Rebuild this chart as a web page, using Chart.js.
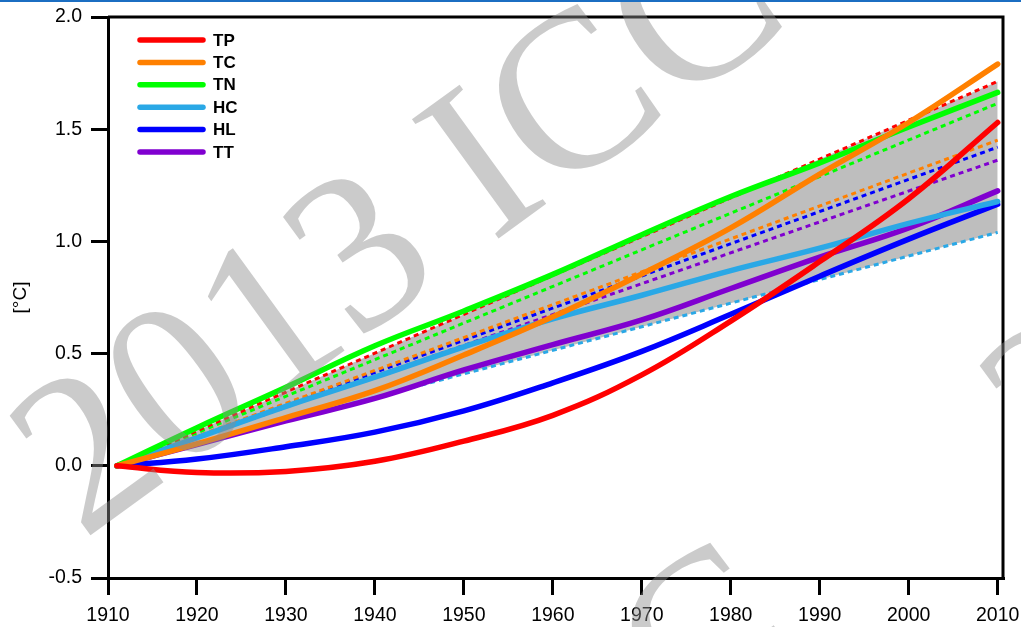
<!DOCTYPE html>
<html>
<head>
<meta charset="utf-8">
<script src="https://cdn.jsdelivr.net/npm/chart.js@4"></script>
<style>
  body { margin: 0; background: #fff; }
  #wrap { width: 1021px; height: 627px; }
</style>
</head>
<body>
<div id="wrap"><canvas id="myChart" width="1021" height="627"></canvas></div>
<script>
// values, degC relative to 1911
const years = [1911, 1920, 1930, 1940, 1950, 1960, 1970, 1980, 1990, 2000, 2010];
const tp = [0, -0.03, -0.025, 0.02, 0.11, 0.225, 0.405, 0.645, 0.91, 1.19, 1.53];
const tc = [0, 0.098, 0.215, 0.335, 0.494, 0.664, 0.855, 1.06, 1.30, 1.53, 1.79];
const tn = [0, 0.17, 0.35, 0.535, 0.69, 0.853, 1.03, 1.20, 1.35, 1.51, 1.664];
const hc = [0, 0.125, 0.265, 0.395, 0.53, 0.655, 0.76, 0.87, 0.97, 1.08, 1.178];
const hl = [0, 0.03, 0.085, 0.15, 0.245, 0.37, 0.51, 0.675, 0.845, 1.01, 1.166];
const tt = [0, 0.095, 0.20, 0.30, 0.427, 0.54, 0.65, 0.79, 0.93, 1.06, 1.225];

// linear trends (dashed)
const trendYears = [1911, 2010];
const tpTrend = [0, 1.713];
const tcTrend = [0, 1.451];
const tnTrend = [0, 1.615];
const hcTrend = [0, 1.04];
const hlTrend = [0, 1.42];
const ttTrend = [0, 1.362];

const labels = ['TP', 'TC', 'TN', 'HC', 'HL', 'TT'];
const colors = ['#ff0000', '#ff8000', '#00ff00', '#2aa8e6', '#0000ff', '#8000d0'];
const yTicks = [-0.5, 0.0, 0.5, 1.0, 1.5, 2.0];
const watermarkText = '2013 ICCC';

function pts(xs, ys) {
    return xs.map((x, i) => ({ x: x, y: ys[i] }));
}

const solid = [tp, tc, tn, hc, hl, tt];
const trends = [tpTrend, tcTrend, tnTrend, hcTrend, hlTrend, ttTrend];

var datasets = [];
solid.forEach((s, i) => {
    datasets.push({
        label: labels[i],
        data: pts(years, s),
        borderColor: colors[i],
        borderWidth: 5.5,
        borderCapStyle: 'round',
        pointRadius: 0,
        tension: 0.4,
        fill: false
    });
});
trends.forEach((s, i) => {
    datasets.push({
        label: labels[i] + ' trend',
        data: pts(trendYears, s),
        borderColor: colors[i],
        borderWidth: 3,
        borderDash: [5, 4],
        pointRadius: 0,
        fill: false
    });
});
// grey band between highest and lowest trend
datasets[6].fill = { target: 9 };
datasets[6].backgroundColor = '#bebebe';

const frame = {
    id: 'frame',
    afterDraw(chart) {
        const ctx = chart.ctx;
        const a = chart.chartArea;
        ctx.save();
        ctx.strokeStyle = '#000';
        ctx.lineWidth = 3;
        ctx.beginPath();
        ctx.moveTo(a.left, a.top);
        ctx.lineTo(a.right, a.top);
        ctx.lineTo(a.right, a.bottom);
        ctx.stroke();

        // legend
        ctx.font = 'bold 17px "Liberation Sans", Arial, sans-serif';
        ctx.textBaseline = 'middle';
        ctx.textAlign = 'left';
        ctx.lineCap = 'round';
        labels.forEach((l, i) => {
            const y = 40 + i * 22.4;
            ctx.strokeStyle = colors[i];
            ctx.lineWidth = 5.5;
            ctx.beginPath();
            ctx.moveTo(140, y);
            ctx.lineTo(203, y);
            ctx.stroke();
            ctx.fillStyle = '#000';
            ctx.fillText(l, 213, y + 1);
        });

        // watermark
        ctx.globalAlpha = 0.45;
        ctx.fillStyle = '#8c8c8c';
        ctx.font = '225px "Liberation Serif", "DejaVu Serif", serif';
        ctx.textAlign = 'center';
        [[465, 190], [1435, 140], [355, 905]].forEach(p => {
            ctx.save();
            ctx.translate(p[0], p[1]);
            ctx.rotate(-36 * Math.PI / 180);
            ctx.fillText(watermarkText, 0, 0);
            ctx.restore();
        });
        ctx.globalAlpha = 1;
        ctx.fillStyle = '#1b6ec2';
        ctx.fillRect(0, 0, chart.width, 2);
        ctx.restore();
    }
};

const ctx = document.getElementById('myChart');
new Chart(ctx, {
    type: 'line',
    data: { datasets: datasets },
    options: {
        responsive: false,
        animation: false,
        layout: { padding: { top: 17, right: 18, left: 0, bottom: 0 } },
        plugins: {
            legend: { display: false },
            tooltip: { enabled: false },
            filler: { drawTime: 'beforeDatasetsDraw' }
        },
        scales: {
            x: {
                type: 'linear',
                min: 1910,
                max: 2010.6,
                afterFit: s => { s.height = 49; s.paddingLeft = 0; s.paddingRight = 0; },
                border: { color: '#000', width: 3 },
                grid: { drawOnChartArea: false, color: '#000', lineWidth: 3, tickLength: 17 },
                ticks: {
                    stepSize: 10,
                    includeBounds: false,
                    autoSkip: false,
                    maxRotation: 0,
                    padding: 9,
                    color: '#000',
                    font: { family: '"Liberation Sans", Arial, sans-serif', size: 19.5 },
                    callback: v => String(v)
                }
            },
            y: {
                min: -0.5,
                max: 2.0,
                afterFit: s => { s.width = 108; s.paddingTop = 0; s.paddingBottom = 0; },
                afterBuildTicks: s => { s.ticks = yTicks.map(v => ({ value: v })); },
                border: { color: '#000', width: 3 },
                grid: { drawOnChartArea: false, color: '#000', lineWidth: 3, tickLength: 17 },
                title: {
                    display: true,
                    text: '[°C]',
                    color: '#000',
                    padding: { top: 9, bottom: 0 },
                    font: { family: '"Liberation Sans", Arial, sans-serif', size: 19 }
                },
                ticks: {
                    padding: 9,
                    color: '#000',
                    font: { family: '"Liberation Sans", Arial, sans-serif', size: 19.5 },
                    callback: v => v.toFixed(1)
                }
            }
        }
    },
    plugins: [frame]
});
</script>
</body>
</html>
